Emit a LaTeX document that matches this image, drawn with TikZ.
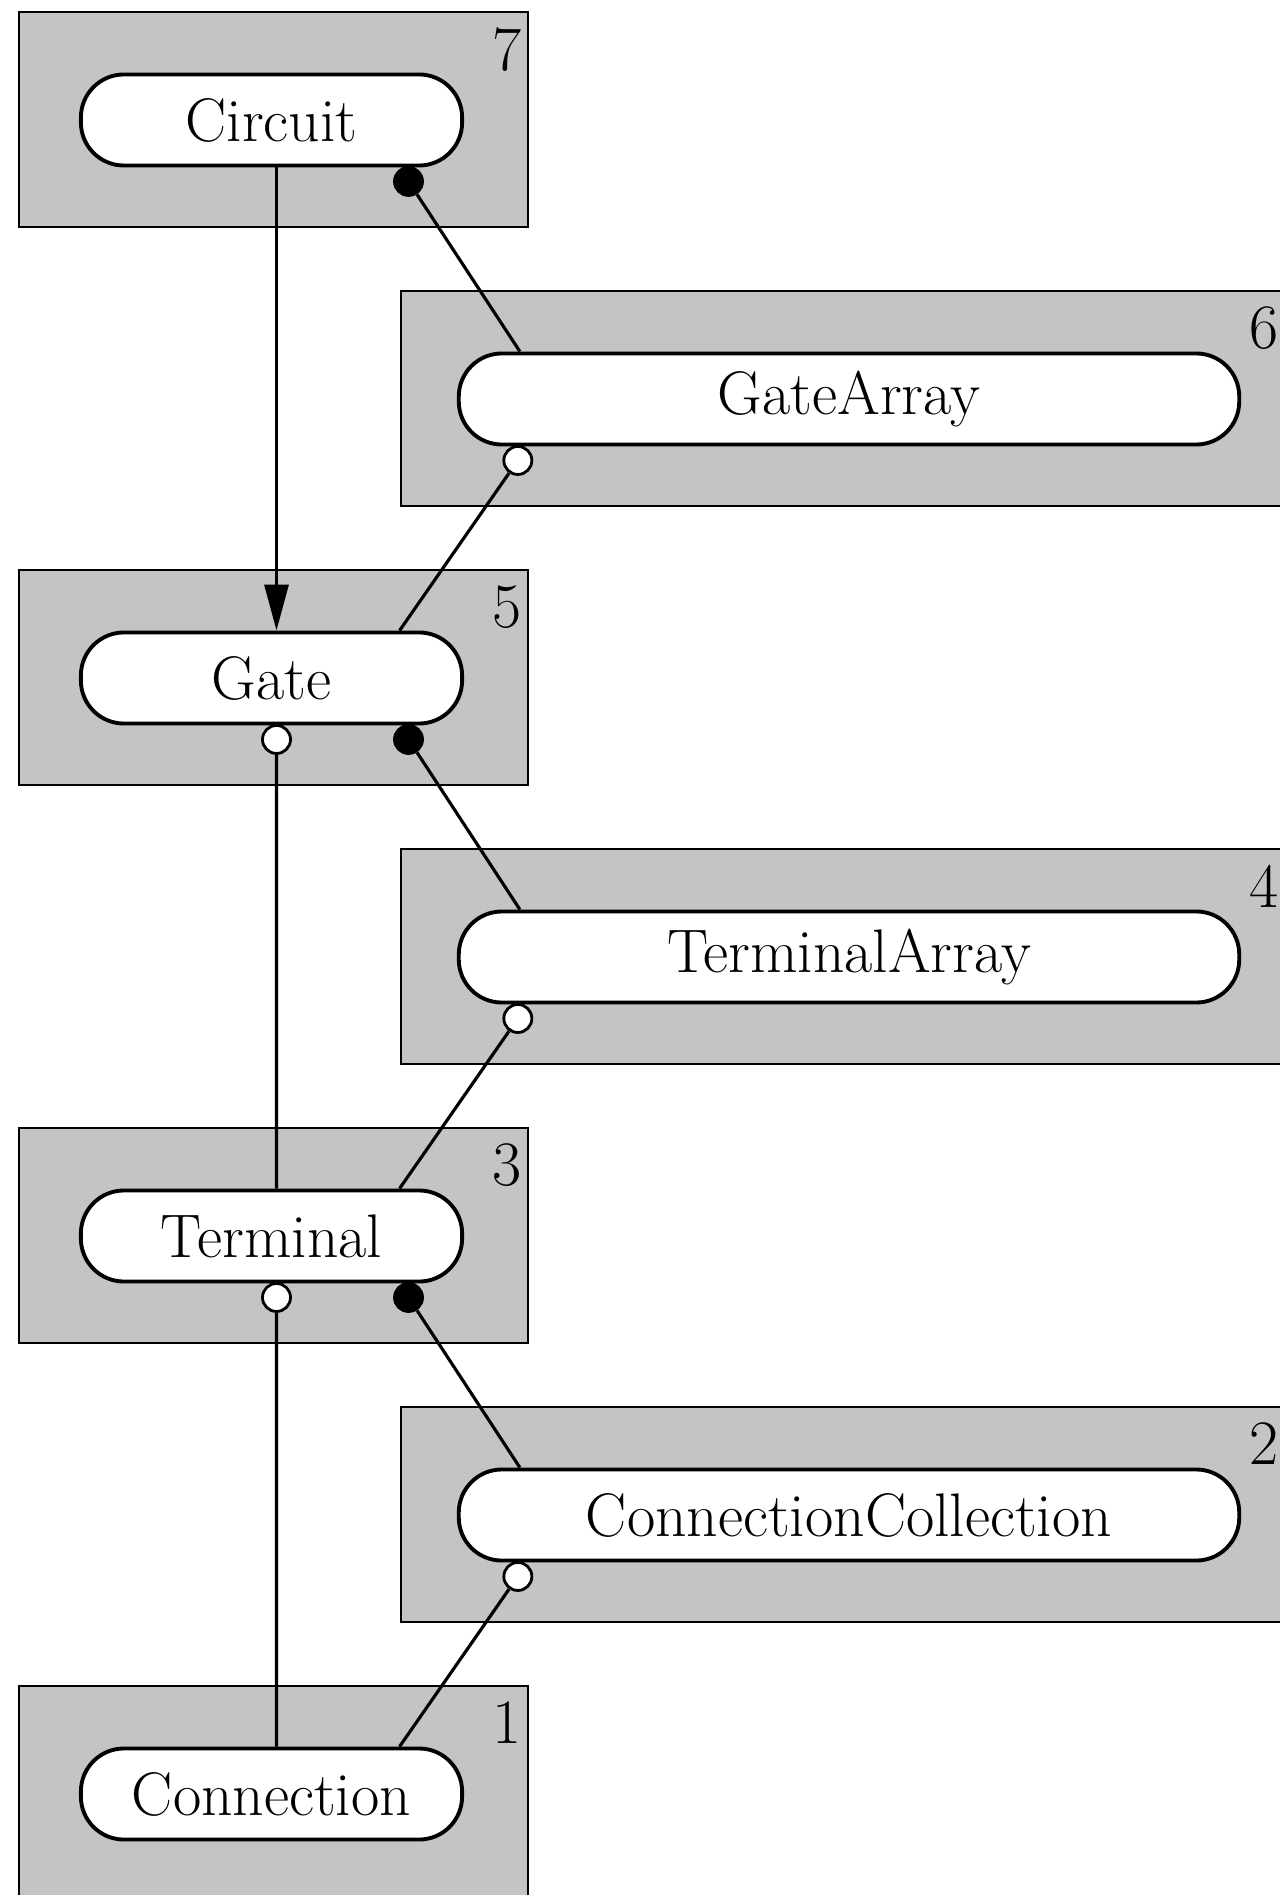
\documentclass[tikz,border=0pt]{standalone}
\usepackage{fontspec}
\usepackage{xcolor}
\usepackage{tikz}
\usetikzlibrary{arrows.meta,positioning,calc}
\tikzset{
  band/.style={draw=black, line width=0.5pt, fill=black!23},
  cls/.style={draw=black, fill=white, line width=1.1pt, rounded corners=4.3mm,
              minimum width=#1, minimum height=9.1mm, inner sep=0pt,
              font=\fontsize{17.5}{20}\selectfont},
  cls/.default=38.1mm,
  lvl/.style={anchor=north east, inner sep=0pt, font=\fontsize{18}{20}\selectfont},
  fulldot/.style={circle, draw=black, fill=black, line width=0.8pt,
                  minimum size=#1, inner sep=0pt},
  fulldot/.default=2.8mm,
  opendot/.style={fulldot=#1, fill=white},
  opendot/.default=2.8mm,
  link/.style={line width=0.9pt},
}

\begin{document}
\begin{tikzpicture}[x=0.01cm, y=-0.01cm]
  \useasboundingbox (0,0) rectangle (1280,1895);
  \clip (0,0) rectangle (1280,1895);
  % left column
  \foreach \lv/\nm/\txt/\y in {7/circ/Circuit/12, 5/gate/Gate/570,
                               3/term/Terminal/1128, 1/conn/Connection/1686} {
    \draw[band] (19,\y) rectangle ++(509,215);
    \node[lvl] at (522,\y+15) {\lv};
    \node[cls] (\nm) at (271.5,\y+108) {\txt};
  }
  % right column
  \foreach \lv/\nm/\txt/\y in {6/garr/GateArray/291, 4/tarr/TerminalArray/849,
                               2/ccol/ConnectionCollection/1407} {
    \draw[band] (401,\y) rectangle ++(890,215);
    \node[lvl] at (1279,\y+15) {\lv};
    \node[cls=78mm] (\nm) at (849,\y+108) {\txt};
  }
  % owner -> collection -> member
  \foreach \hi/\md/\lo in {circ/garr/gate, gate/tarr/term, term/ccol/conn} {
    \node[fulldot] (\hi-own) at ([shift={(137,14)}]\hi.south) {};
    \node[opendot] (\md-own) at ([shift={(61,14)}]\md.south west) {};
    \coordinate (\md-in) at ([xshift=0.63cm]\md.north west);
    \coordinate (\lo-in) at ([xshift=1.28cm]\lo.north);
    \draw[link] (\hi-own) -- (\md-in);
    \draw[link] (\md-own) -- (\lo-in);
  }
  \draw[link, -{Triangle[length=4.6mm, width=2.4mm]}]
    ([xshift=0.05cm]circ.south) -- ([xshift=0.05cm]gate.north);
  \foreach \hi/\lo in {gate/term, term/conn} {
    \node[opendot] (\hi-set) at ([shift={(5,14)}]\hi.south) {};
    \draw[link] (\hi-set) -- ([xshift=0.05cm]\lo.north);
  }
\end{tikzpicture}
\end{document}
